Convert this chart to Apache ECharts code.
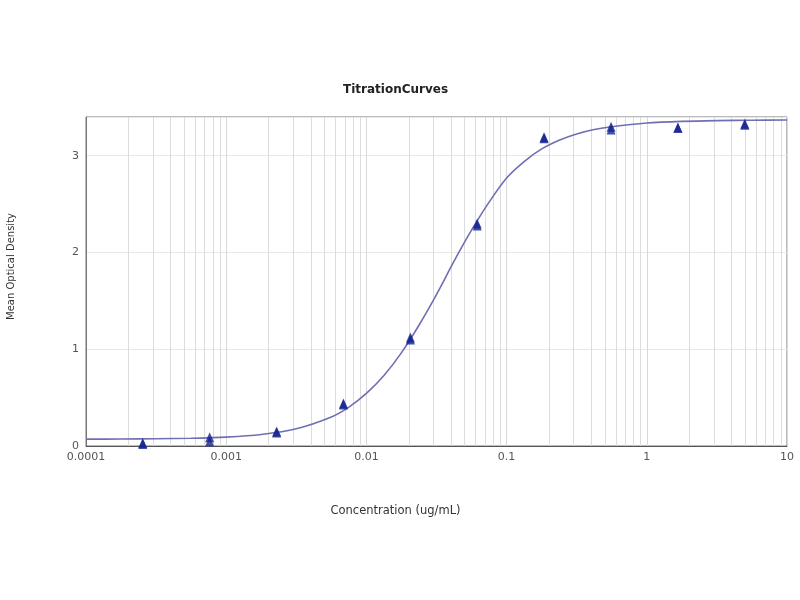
<!DOCTYPE html>
<html>
<head>
<meta charset="utf-8">
<script src="https://cdn.jsdelivr.net/npm/echarts@6/dist/echarts.min.js"></script>
<style>html,body{margin:0;padding:0;background:#fff;}#c{width:800px;height:600px;}</style>
</head>
<body>
<div id="c"></div>
<script>
// Measured replicates (concentration in ug/mL, mean OD)
var conc = [0.000254, 0.000762, 0.00229, 0.00686, 0.0206, 0.0617, 0.185, 0.556, 1.667, 5.0];
var od1  = [0.03, 0.05, 0.14, 0.43, 1.10, 2.28, 3.18, 3.27, 3.29, 3.32];
var od2  = [0.02, 0.09, 0.15, 0.44, 1.12, 2.30, 3.19, 3.30, 3.29, 3.33];

// Fitted curve
var curveX = [0.0001, 0.000178, 0.000316, 0.000562, 0.001, 0.00178, 0.00316, 0.00562, 0.0075, 0.01,
              0.01334, 0.0178, 0.0237, 0.0316, 0.0422, 0.0562, 0.075, 0.1, 0.1334, 0.178,
              0.237, 0.316, 0.422, 0.562, 1, 1.78, 3.16, 5.62, 10];
var curveY = [0.071, 0.072, 0.075, 0.080, 0.092, 0.119, 0.178, 0.300, 0.402, 0.543,
              0.728, 0.965, 1.248, 1.565, 1.91, 2.23, 2.52, 2.77, 2.94, 3.07,
              3.16, 3.225, 3.27, 3.30, 3.338, 3.355, 3.363, 3.367, 3.369];

var xTickLabels = ['0.0001', '0.001', '0.01', '0.1', '1', '10'];
var yTicks = [0, 1, 2, 3];

// minor vertical grid values (2..9 in each decade)
var minorGrid = [];
var decades = [0.0001, 0.001, 0.01, 0.1, 1];
decades.forEach(function (dv) {
  for (var m = 2; m <= 9; m++) minorGrid.push(+(m * dv).toPrecision(3));
});

var chart = echarts.init(document.getElementById('c'), null, {renderer: 'canvas'});
var font = 'DejaVu Sans, Verdana, sans-serif';
chart.setOption({
  animation: false,
  backgroundColor: '#fff',
  title: {
    text: 'TitrationCurves',
    left: 338, top: 79,
    textStyle: {fontSize: 12, fontWeight: 'bold', color: '#222', fontFamily: font}
  },
  grid: {left: 86, right: 13, top: 117, bottom: 154, show: true, borderColor: '#777', borderWidth: 1,
         outerBoundsMode: 'none', containLabel: false},
  xAxis: {
    type: 'log', logBase: 10, min: 0.0001, max: 10,
    name: 'Concentration (ug/mL)', nameLocation: 'middle', nameGap: 59,
    nameTextStyle: {fontSize: 11.5, color: '#333', fontFamily: font, padding: [0, 82, 0, 0]},
    axisLine: {lineStyle: {color: '#555', width: 1}},
    axisTick: {show: false},
    axisLabel: {
      fontSize: 11, color: '#555', fontFamily: font, margin: 6,
      formatter: function (v) {
        var i = Math.round(Math.log10(v)) + 4;
        return xTickLabels[i] !== undefined ? xTickLabels[i] : '';
      }
    },
    splitLine: {show: true, lineStyle: {color: '#d8d8d8', width: 1}}
  },
  yAxis: {
    type: 'value', min: 0, max: 3.4, interval: 1,
    name: 'Mean Optical Density', nameLocation: 'middle', nameGap: 70, nameRotate: 90,
    nameTextStyle: {fontSize: 10, color: '#333', fontFamily: font, padding: [0, 0, 0, 30]},
    axisLine: {show: true, lineStyle: {color: '#777', width: 1}},
    axisTick: {show: false},
    axisLabel: {fontSize: 11, color: '#555', fontFamily: font, margin: 7, showMaxLabel: false,
      formatter: function (v) { return yTicks.indexOf(v) >= 0 ? String(v) : ''; }},
    splitLine: {show: true, lineStyle: {color: '#e8e8e8', width: 1}}
  },
  series: [
    {
      type: 'custom', name: 'minorGrid', silent: true, z: 1,
      data: minorGrid.map(function (v) { return [v]; }),
      encode: {x: 0},
      renderItem: function (params, api) {
        var x = api.value(0);
        var p1 = api.coord([x, 0]);
        var p2 = api.coord([x, 3.4]);
        return {
          type: 'line',
          shape: {x1: Math.round(p1[0]) + 0.5, y1: p1[1], x2: Math.round(p2[0]) + 0.5, y2: p2[1]},
          style: {stroke: '#dcdcdc', lineWidth: 1}
        };
      }
    },
    {
      type: 'line', name: 'fit',
      data: curveX.map(function (x, i) { return [x, curveY[i]]; }),
      smooth: 0.3, showSymbol: false, symbol: 'none',
      lineStyle: {color: '#6f6fb3', width: 1.6},
      z: 3
    },
    {
      type: 'scatter', name: 'rep1',
      data: conc.map(function (x, i) { return [x, od1[i]]; }),
      symbol: 'triangle', symbolSize: [9, 10],
      itemStyle: {color: '#142491'}, z: 5
    },
    {
      type: 'scatter', name: 'rep2',
      data: conc.map(function (x, i) { return [x, od2[i]]; }),
      symbol: 'triangle', symbolSize: [9, 10],
      itemStyle: {color: '#142491'}, z: 5
    }
  ]
});
</script>
</body>
</html>
